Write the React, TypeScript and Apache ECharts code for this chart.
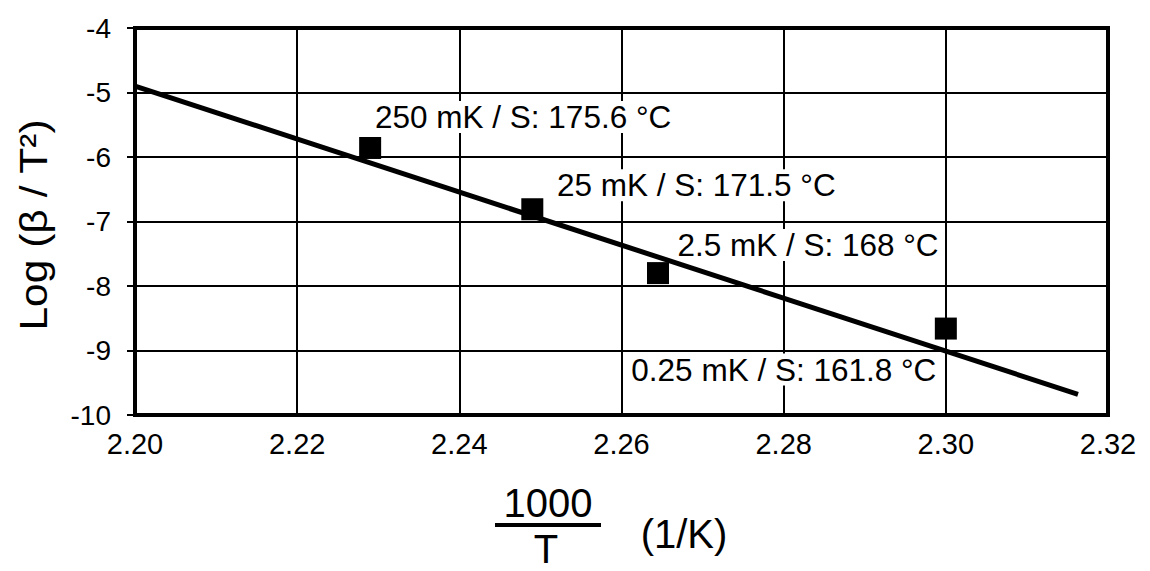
import React, { useEffect, useRef } from "react";
import * as echarts from "echarts";

const xValues = [2.229, 2.249, 2.2645, 2.3];
const yValues = [-5.86, -6.81, -7.8, -8.66];
const pointLabels = [
  "250 mK / S: 175.6 °C",
  "25 mK / S: 171.5 °C",
  "2.5 mK / S: 168 °C",
  "0.25 mK / S: 161.8 °C",
];
const fitX = [2.2, 2.3163];
const fitY = [-4.9, -9.68];

const xTicks = { min: 2.2, max: 2.32, interval: 0.02 };
const yTicks = { min: -10, max: -4, interval: 1 };

// label placement (styling)
const labelOffsets: [number, number][] = [
  [153, -31],
  [164, -24],
  [150, -28],
  [-162, 41],
];

const FONT = "Liberation Sans, Arial, Helvetica, sans-serif";

export default function App() {
  const ref = useRef<HTMLDivElement>(null);
  useEffect(() => {
    if (!ref.current) return;
    const chart = echarts.init(ref.current, undefined, { renderer: "svg" });
    chart.setOption({
      animation: false,
      backgroundColor: "#fff",
      grid: {
        left: 135,
        right: 42,
        top: 28,
        bottom: 156,
        show: true,
        borderColor: "#000",
        borderWidth: 4,
      },
      xAxis: {
        type: "value",
        min: xTicks.min,
        max: xTicks.max,
        interval: xTicks.interval,
        axisLine: { show: true, lineStyle: { color: "#000", width: 4 } },
        axisTick: { show: false },
        splitLine: { show: true, lineStyle: { color: "#000", width: 2 } },
        axisLabel: {
          color: "#000",
          fontFamily: FONT,
          fontSize: 29,
          margin: 14,
          formatter: (v: number) => v.toFixed(2),
        },
      },
      yAxis: {
        type: "value",
        min: yTicks.min,
        max: yTicks.max,
        interval: yTicks.interval,
        axisLine: { show: true, lineStyle: { color: "#000", width: 4 } },
        axisTick: { show: true, inside: false, length: 8, lineStyle: { color: "#000", width: 2 } },
        splitLine: { show: true, lineStyle: { color: "#000", width: 2 } },
        axisLabel: {
          color: "#000",
          fontFamily: FONT,
          fontSize: 28,
          margin: 24,
        },
      },
      graphic: [
        {
          type: "text",
          x: 34,
          y: 225,
          rotation: Math.PI / 2,
          scaleX: 1.12,
          style: {
            text: "Log (β / T²)",
            font: `38px ${FONT}`,
            fill: "#000",
            align: "center",
            verticalAlign: "middle",
          },
        },
        {
          type: "text",
          x: 548,
          y: 503,
          style: {
            text: "1000",
            font: `40px ${FONT}`,
            fill: "#000",
            align: "center",
            verticalAlign: "middle",
          },
        },
        {
          type: "rect",
          shape: { x: 495, y: 523, width: 106, height: 4 },
          style: { fill: "#000" },
        },
        {
          type: "text",
          x: 546,
          y: 549,
          style: {
            text: "T",
            font: `40px ${FONT}`,
            lineHeight: 38,
            fill: "#000",
            align: "center",
            verticalAlign: "middle",
          },
        },
        {
          type: "text",
          x: 684,
          y: 534,
          style: {
            text: "(1/K)",
            font: `40px ${FONT}`,
            fill: "#000",
            align: "center",
            verticalAlign: "middle",
          },
        },
      ],
      series: [
        {
          type: "scatter",
          z: 4,
          symbol: "rect",
          symbolSize: 22,
          itemStyle: { color: "#000", opacity: 1 },
          data: xValues.map((x, i) => ({
            value: [x, yValues[i]],
            label: { offset: labelOffsets[i] },
          })),
          label: {
            show: true,
            position: "inside",
            color: "#000",
            fontFamily: FONT,
            fontSize: 31.5,
            backgroundColor: "#fff",
            padding: [0, 3],
            formatter: (p: any) => pointLabels[p.dataIndex],
          },
        },
        {
          type: "line",
          z: 5,
          symbol: "none",
          lineStyle: { color: "#000", width: 5 },
          data: fitX.map((x, i) => [x, fitY[i]]),
        },
      ],
    });
    return () => chart.dispose();
  }, []);
  return (
    <div
      ref={ref}
      style={{ position: "fixed", left: 0, top: 0, width: 1150, height: 571 }}
    />
  );
}
